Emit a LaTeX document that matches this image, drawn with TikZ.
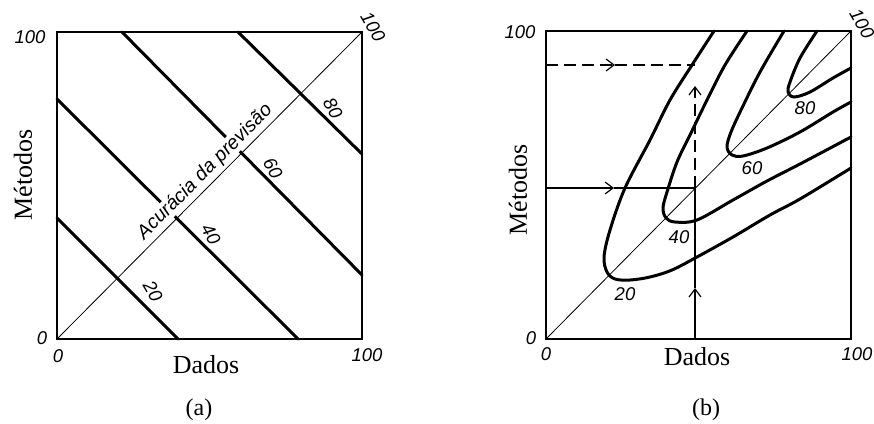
\documentclass[tikz,border=0pt]{standalone}
\usepackage{fontspec}
\setmainfont{Liberation Serif}
\newfontfamily\lsans{Liberation Sans}
\usetikzlibrary{arrows.meta}
\begin{document}
\begin{tikzpicture}[x=1pt,y=-1pt,
  pframe/.style={line width=2pt},
  pdiag/.style={line width=0.8pt},
  iso/.style={line width=3pt, line cap=round},
  num/.style={font=\lsans\itshape\fontsize{18.5}{18.5}\selectfont, inner sep=0pt},
  axt/.style={font=\fontsize{26}{26}\selectfont, inner sep=0pt},
  captxt/.style={font=\fontsize{24}{24}\selectfont, inner sep=0pt},
  guide/.style={line width=1.2pt},
  gtip/.style={-{Straight Barb[length=8pt,width=12pt,line width=1.2pt]}},
  gdash/.style={dash pattern=on 12pt off 6pt}
]
\useasboundingbox (0,0) rectangle (874,423);
% ---------------- panel (a)
\coordinate (aO) at (57,339);
\coordinate (aT) at (362,32);
\draw[pframe] (aO) rectangle (aT);
\draw[pdiag] (aO) -- (aT);
\coordinate (l20a) at (57,218);  \coordinate (l20b) at (178,339);
\coordinate (l40a) at (57,99);   \coordinate (l40b) at (298,339);
\coordinate (l60a) at (122,32);  \coordinate (l60b) at (362,275);
\coordinate (l80a) at (238,32);  \coordinate (l80b) at (362,154);
\draw[iso] (l20a) -- (l20b);
\draw[iso] (l40a) -- (l40b);
\draw[iso] (l60a) -- (l60b);
\draw[iso] (l80a) -- (l80b);
\node[num, fill=white, inner sep=0.6pt, rotate=45, font=\lsans\itshape\fontsize{19.5}{19.5}\selectfont] (acc) at (205,172) {Acurácia da previsão};
\node[num, rotate=-60] (a20) at (153,291) {20};
\node[num, rotate=-60] (a40) at (211,234) {40};
\node[num, rotate=-60] (a60) at (273,168) {60};
\node[num, rotate=-60] (a80) at (333,108) {80};
\node[num] (ay100) at (30,37) {100};
\node[num] (ay0) at (42,338) {0};
\node[num] (ax0) at (58,356) {0};
\node[num] (ax100) at (367,355) {100};
\node[num, rotate=-60] (ad100) at (373,27) {100};
\node[axt, rotate=90] (amet) at (23,175) {Métodos};
\node[axt] (adad) at (206,365) {Dados};
\node[captxt] (acap) at (199,410) {(a)};
% ---------------- panel (b)
\coordinate (bO) at (546,339);
\coordinate (bT) at (851,31);
\coordinate (hS) at (546,188);
\coordinate (hM) at (614,188);
\coordinate (P)  at (695,188);
\coordinate (vS) at (695,339);
\coordinate (vM) at (695,288);
\coordinate (dT) at (695,86);
\coordinate (dS) at (546,65);
\coordinate (dM) at (615,65);
\coordinate (dE) at (695,65);
\draw[guide,gtip] (hS) -- (hM);
\draw[guide] (hM) -- (P);
\draw[guide,gtip] (vS) -- (vM);
\draw[guide] (vM) -- (P);
\draw[guide,gdash,gtip] (P) -- (dT);
\draw[guide,gdash,gtip] (dS) -- (dM);
\draw[guide,gdash] (dM) -- (dE);
\draw[pframe] (bO) rectangle (bT);
\draw[pdiag] (bO) -- (bT);
\draw[iso] plot[smooth, tension=0.55] coordinates {(714,31) (692,65) (670,100) (650,140) (625,188) (610,230) (604,257) (607,272) (615,279) (630,280) (650,277) (672,270) (697,257) (733,237) (770,215) (800,199) (851,168)};
\draw[iso] plot[smooth, tension=0.55] coordinates {(747,31) (725,65) (707,100) (690,135) (677,162) (667,192) (663,208) (666,218) (675,222) (697,220) (733,200) (767,181) (800,164) (851,137)};
\draw[iso] plot[smooth, tension=0.55] coordinates {(784,31) (760,72) (742,108) (731,132) (727,147) (732,155) (743,156) (767,148) (800,132) (833,112) (851,102)};
\draw[iso] plot[smooth, tension=0.55] coordinates {(817,31) (800,58) (790,82) (788,92) (794,97) (810,92) (833,78) (851,68)};
\node[num] (b20) at (625,294) {20};
\node[num] (b40) at (679,237) {40};
\node[num] (b60) at (752,168) {60};
\node[num] (b80) at (805,108) {80};
\node[num] (by100) at (520,32) {100};
\node[num] (by0) at (531,338) {0};
\node[num] (bx0) at (546,354) {0};
\node[num] (bx100) at (857,354) {100};
\node[num, rotate=-60] (bd100) at (862,24) {100};
\node[axt, rotate=90] (bmet) at (518,190) {Métodos};
\node[axt] (bdad) at (697,357) {Dados};
\node[captxt] (bcap) at (706,410) {(b)};
\end{tikzpicture}
\end{document}
